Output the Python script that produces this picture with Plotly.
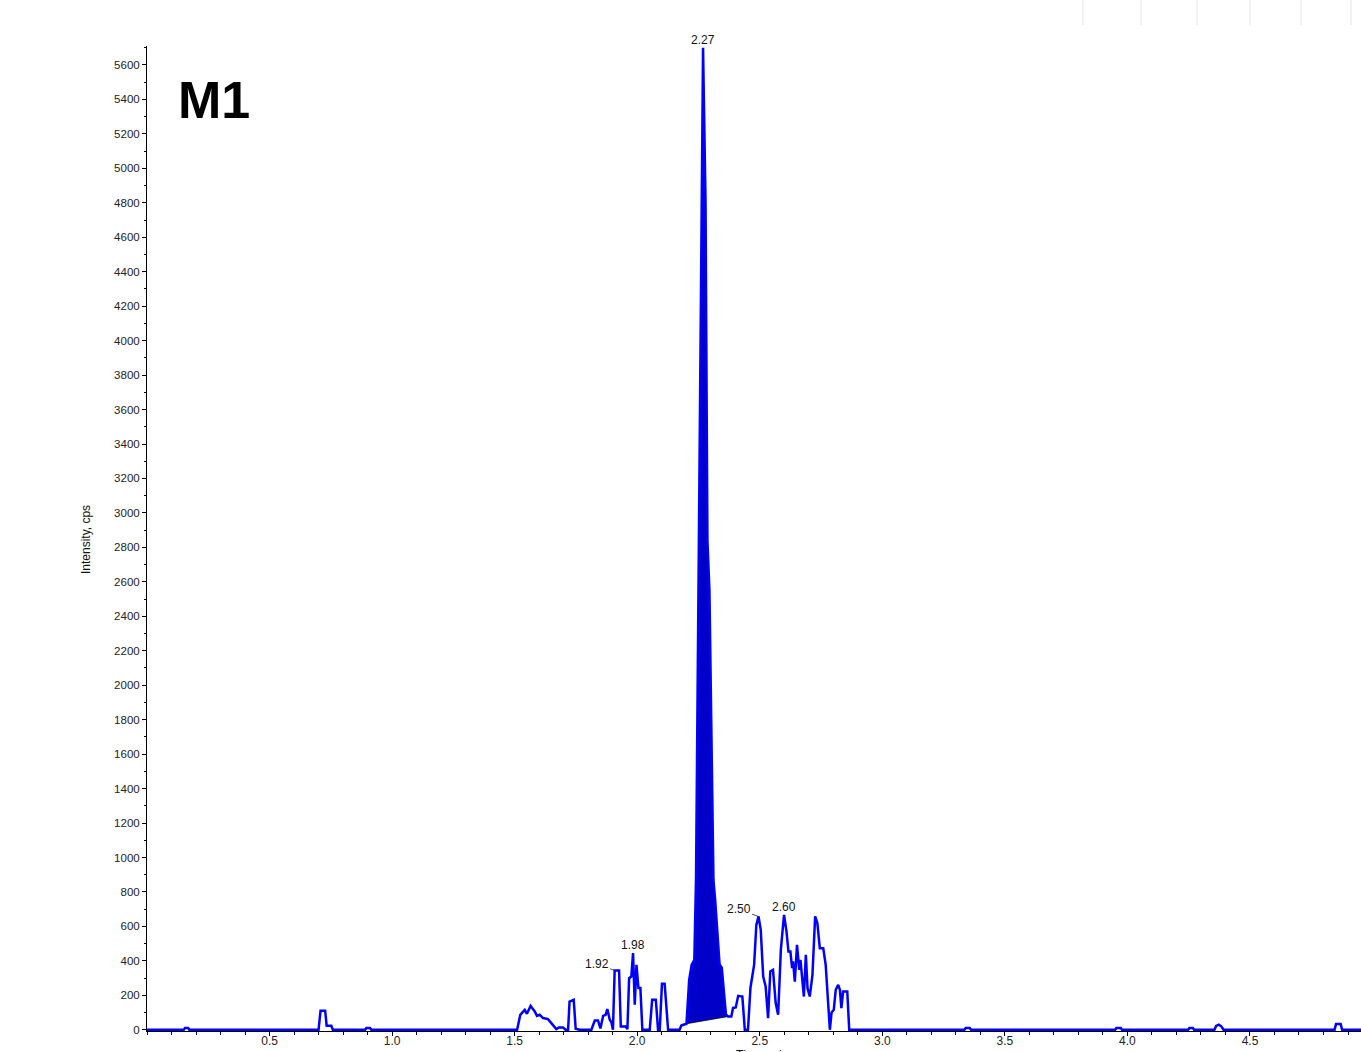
import numpy as np
import plotly.graph_objects as go

# ---------------- data ----------------
time_min = [
    0.000, 0.150, 0.155, 0.168, 0.173,
    0.700, 0.708, 0.727, 0.733, 0.752, 0.758,
    0.890, 0.895, 0.910, 0.915,
    1.510, 1.523, 1.541, 1.550, 1.565, 1.582, 1.591, 1.602, 1.616, 1.636,
    1.656, 1.670, 1.681, 1.697, 1.708,
    1.718, 1.724, 1.741, 1.749, 1.765,
    1.813, 1.827, 1.840, 1.850, 1.861, 1.871, 1.878, 1.888, 1.895, 1.901,
    1.908, 1.926, 1.933, 1.953, 1.960, 1.967, 1.976, 1.983, 1.990, 1.997,
    2.005, 2.013, 2.021,
    2.051, 2.061, 2.076, 2.085, 2.092, 2.101, 2.112, 2.126,
    2.173, 2.180, 2.201,
    2.212, 2.222, 2.233, 2.240, 2.2686, 2.2788, 2.2865, 2.2947, 2.311, 2.318,
    2.336, 2.345, 2.362, 2.371,
    2.384, 2.391, 2.402, 2.412, 2.429, 2.439, 2.452, 2.462, 2.477, 2.486,
    2.495, 2.504, 2.514, 2.524, 2.534, 2.543, 2.554, 2.565, 2.575, 2.586,
    2.599, 2.609, 2.617, 2.625, 2.632, 2.636, 2.643, 2.652, 2.661, 2.666,
    2.673, 2.680, 2.688, 2.695, 2.704, 2.715, 2.726, 2.735, 2.745, 2.759,
    2.769, 2.779, 2.786, 2.793, 2.802, 2.810, 2.820, 2.827, 2.833, 2.840,
    2.857, 2.865,
    3.335, 3.340, 3.357, 3.362,
    3.950, 3.955, 3.973, 3.978,
    4.248, 4.253, 4.267, 4.272,
    4.355, 4.362, 4.373, 4.383, 4.392,
    4.845, 4.851, 4.870, 4.876,
    4.953,
]
intensity_cps = [
    0, 0, 10, 10, 0,
    0, 110, 110, 23, 23, 0,
    0, 10, 10, 0,
    0, 87, 116, 93, 139, 106, 81, 87, 68, 62,
    29, 4, 14, 14, 0,
    0, 164, 174, 6, 0,
    0, 54, 54, 8, 81, 87, 120, 58, 43, 0,
    344, 344, 19, 19, 4, 300, 309, 445, 145, 377,
    242, 242, 0,
    0, 174, 174, 0, 0, 267, 267, 0,
    0, 25, 35,
    290, 377, 406, 880, 5700, 4800, 2840, 2550, 870, 754,
    380, 360, 90, 77,
    77, 127, 130, 197, 193, 0, 0, 244, 377, 609,
    658, 580, 309, 251, 68, 338, 348, 155, 87, 464,
    667, 571, 454, 454, 358, 397, 280, 493, 348, 406,
    300, 193, 435, 240, 193, 319, 658, 619, 474, 474,
    377, 116, 0, 101, 116, 232, 261, 232, 126, 222,
    222, 0,
    0, 10, 10, 0,
    0, 10, 10, 0,
    0, 10, 10, 0,
    0, 22, 30, 20, 0,
    0, 33, 33, 0,
    0,
]

# integrated peak: baseline endpoints
baseline_t = [2.180, 2.371]
baseline_y = [30, 77]
fill_start = 2.201

# peak labels
label_t = [1.908, 1.983, 2.2686, 2.495, 2.599]
label_y = [344, 445, 5700, 658, 667]
label_txt = ["1.92", "1.98", "2.27", "2.50", "2.60"]

y_ticks = list(range(0, 5601, 200))
x_ticks = [0.5, 1.0, 1.5, 2.0, 2.5, 3.0, 3.5, 4.0, 4.5]

# ---------------- figure ----------------
t = np.array(time_min)
yv = np.array(intensity_cps, dtype=float)
mask = (t >= fill_start) & (t <= baseline_t[1])
poly_t = list(t[mask])
poly_y = list(yv[mask])
poly_t += [baseline_t[1], fill_start]
poly_y += [float(np.interp(baseline_t[1], baseline_t, baseline_y)),
           float(np.interp(fill_start, baseline_t, baseline_y))]

FONT = "Liberation Sans, Arial, Helvetica, sans-serif"

fig = go.Figure()
fig.add_trace(go.Scatter(x=poly_t, y=poly_y, mode="lines", fill="toself",
                         fillcolor="#0000C8", line=dict(width=0, color="#0000C8"),
                         hoverinfo="skip", showlegend=False))
fig.add_trace(go.Scatter(x=baseline_t, y=baseline_y, mode="lines",
                         line=dict(color="black", width=0.8),
                         hoverinfo="skip", showlegend=False))
fig.add_trace(go.Scatter(x=time_min, y=intensity_cps, mode="lines",
                         line=dict(color="#0000FF", width=2.5),
                         showlegend=False))

annotations = []
for lt, ly, tx in zip(label_t, label_y, label_txt):
    if tx in ("1.92", "2.50"):
        annotations.append(dict(x=lt, y=ly, text=tx, showarrow=True,
                                ax=-18 if tx == "1.92" else -20, ay=-7,
                                arrowhead=0, arrowwidth=0.8, arrowcolor="#222",
                                font=dict(family=FONT, size=12, color="#111")))
    else:
        annotations.append(dict(x=lt, y=ly, text=tx, showarrow=False,
                                xanchor="center", yanchor="bottom", yshift=-1,
                                font=dict(family=FONT, size=12, color="#111")))

annotations.append(dict(xref="paper", yref="paper", x=0.0235, y=0.945,
                        xanchor="left", yanchor="middle", showarrow=False,
                        text="<b>M1</b>",
                        font=dict(family=FONT, size=52, color="black")))
annotations.append(dict(xref="paper", yref="paper", x=-0.0502, y=0.4985,
                        xanchor="center", yanchor="middle", showarrow=False,
                        textangle=-90, text="Intensity, cps",
                        font=dict(family=FONT, size=12, color="#111")))
annotations.append(dict(xref="paper", yref="paper", x=0.507, y=-0.0152,
                        xanchor="center", yanchor="top", showarrow=False,
                        text="Time, min",
                        font=dict(family=FONT, size=12, color="#111")))

shapes = []
for px in [1083, 1141, 1197, 1250, 1301, 1351]:
    xp = (px - 147) / 1214
    shapes.append(dict(type="line", xref="paper", yref="paper",
                       x0=xp, x1=xp, y0=(1031 - 0) / 985, y1=(1031 - 25) / 985,
                       line=dict(color="#e6e6e6", width=1)))

fig.update_layout(
    width=1361, height=1052,
    margin=dict(l=147, r=0, t=46, b=21, pad=0),
    paper_bgcolor="white", plot_bgcolor="white",
    annotations=annotations, shapes=shapes,
    font=dict(family=FONT, size=12, color="#111"),
)
fig.update_xaxes(range=[0, 4.953], tickvals=x_ticks,
                 ticktext=[f"{v:.1f}" for v in x_ticks],
                 showgrid=False, zeroline=False, showline=True,
                 linecolor="black", linewidth=1, ticks="outside",
                 ticklen=4, tickwidth=1, tickcolor="black",
                 ticklabelstandoff=-5,
                 tickfont=dict(family=FONT, size=12, color="#222"),
                 minor=dict(dtick=0.1, tick0=0, ticks="outside", ticklen=3,
                            tickcolor="black", tickwidth=1, showgrid=False))
fig.update_yaxes(range=[-7, 5710], tickvals=y_ticks,
                 ticktext=[str(v) for v in y_ticks],
                 showgrid=False, zeroline=False, showline=True,
                 linecolor="black", linewidth=1, ticks="outside",
                 ticklen=4, tickwidth=1, tickcolor="black",
                 tickfont=dict(family=FONT, size=11.5, color="#222"),
                 minor=dict(dtick=100, tick0=0, ticks="outside", ticklen=2,
                            tickcolor="black", tickwidth=1, showgrid=False))

# remove the default 8 px page margin so the figure fills the window exactly
fig.write_html("out.html",
               config={"displayModeBar": False},
               post_script="document.body.style.margin='0';"
                           "document.body.style.overflow='hidden';")
